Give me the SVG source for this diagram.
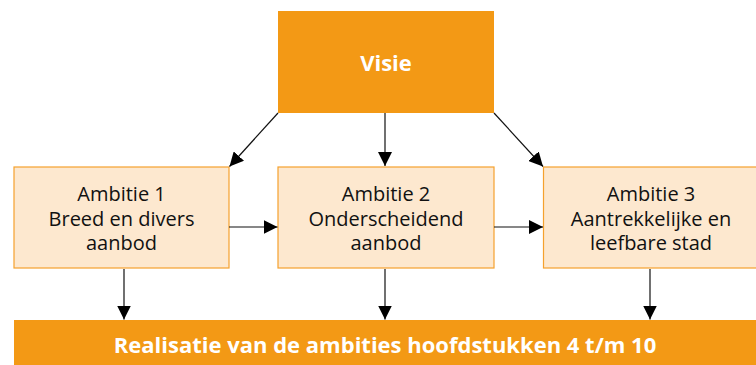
<svg xmlns="http://www.w3.org/2000/svg" width="756" height="365" viewBox="0 0 756 365">
<style>
.dark{fill:#F39915}
.light{fill:#FDE8CF;stroke:#F5A12E;stroke-width:1.2}
.t{font-family:"Open Sans","DejaVu Sans",sans-serif;font-size:20px;fill:#111;text-anchor:middle}
.w{font-family:"Open Sans","DejaVu Sans",sans-serif;font-weight:bold;font-size:22px;fill:#fff;text-anchor:middle}
.c{stroke:#111;stroke-width:1.2;fill:none;marker-end:url(#ah)}
</style>
<defs>
<marker id="ah" viewBox="0 0 10 10" refX="10" refY="5" markerWidth="14" markerHeight="14" markerUnits="userSpaceOnUse" orient="auto">
<path d="M0,0 L10,5 L0,10 z" fill="#000"/>
</marker>
</defs>
<rect width="756" height="365" fill="#fff"/>
<g id="visie">
<rect class="dark" x="278" y="11" width="216" height="102"/>
<text class="w" x="386" y="71">Visie</text>
</g>
<g id="ambitie1">
<rect class="light" x="14" y="167" width="215" height="101"/>
<text class="t"><tspan x="121.5" y="201">Ambitie 1</tspan><tspan x="121.5" y="225.5">Breed en divers</tspan><tspan x="121.5" y="250">aanbod</tspan></text>
</g>
<g id="ambitie2">
<rect class="light" x="278" y="167" width="216" height="101"/>
<text class="t"><tspan x="386" y="201">Ambitie 2</tspan><tspan x="386" y="225.5">Onderscheidend</tspan><tspan x="386" y="250">aanbod</tspan></text>
</g>
<g id="ambitie3">
<rect class="light" x="543.5" y="167" width="216" height="101"/>
<text class="t"><tspan x="651" y="201">Ambitie 3</tspan><tspan x="651" y="225.5">Aantrekkelijke en</tspan><tspan x="651" y="250">leefbare stad</tspan></text>
</g>
<g id="realisatie">
<rect class="dark" x="14" y="320" width="745" height="46"/>
<text class="w" x="385" y="353">Realisatie van de ambities hoofdstukken 4 t/m 10</text>
</g>
<g id="connectors">
<line class="c" x1="278" y1="113" x2="229.5" y2="166.5"/>
<line class="c" x1="385" y1="113" x2="385" y2="166"/>
<line class="c" x1="494" y1="113" x2="543" y2="166.5"/>
<line class="c" x1="229" y1="227" x2="277.5" y2="227"/>
<line class="c" x1="494" y1="227" x2="543" y2="227"/>
<line class="c" x1="124" y1="269" x2="124" y2="319.5"/>
<line class="c" x1="385" y1="269" x2="385" y2="319.5"/>
<line class="c" x1="650" y1="269" x2="650" y2="319.5"/>
</g>
</svg>
